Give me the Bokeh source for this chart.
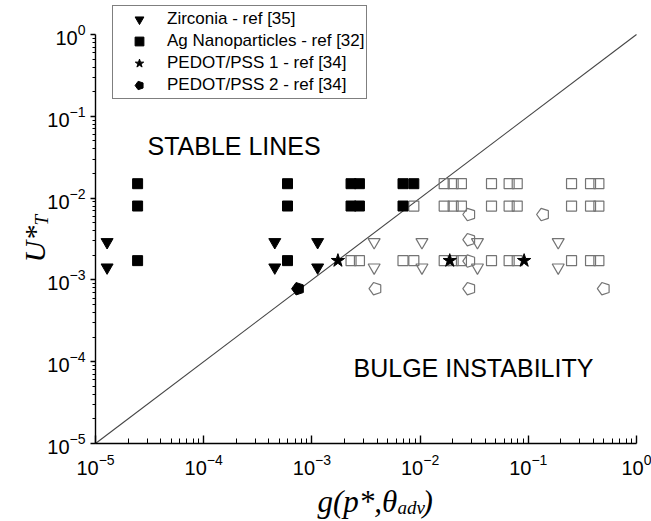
import math
from bokeh.plotting import figure
from bokeh.models import FixedTicker, Label, Legend, LegendItem, Range1d
from bokeh.embed import file_html
from bokeh.resources import INLINE

# ---------------- data ----------------
# Zirconia - ref [35]
zr_stable_x = [1.28e-5, 1.28e-5, 4.54e-4, 4.54e-4, 1.13e-3, 1.13e-3]
zr_stable_y = [2.9e-3, 1.42e-3, 2.9e-3, 1.42e-3, 2.9e-3, 1.42e-3]
zr_unstable_x = [3.76e-3, 3.76e-3, 1.04e-2, 1.04e-2, 3.39e-2, 3.39e-2, 0.189, 0.189]
zr_unstable_y = [2.9e-3, 1.42e-3, 2.9e-3, 1.42e-3, 2.9e-3, 1.42e-3, 2.9e-3, 1.42e-3]

# Ag Nanoparticles - ref [32]
ag_stable_x = [2.45e-5, 5.95e-4, 2.3e-3, 2.75e-3, 6.95e-3, 8.75e-3,
               2.45e-5, 5.95e-4, 2.3e-3, 2.75e-3, 6.95e-3,
               2.45e-5, 5.95e-4]
ag_stable_y = [1.5e-2, 1.5e-2, 1.5e-2, 1.5e-2, 1.5e-2, 1.5e-2,
               8.0e-3, 8.0e-3, 8.0e-3, 8.0e-3, 8.0e-3,
               1.72e-3, 1.72e-3]
ag_unstable_x = [1.67e-2, 2.02e-2, 2.41e-2, 4.57e-2, 6.65e-2, 7.9e-2, 0.251, 0.376, 0.449,
                 8.75e-3, 1.67e-2, 2.02e-2, 2.41e-2, 4.57e-2, 6.65e-2, 7.9e-2, 0.251, 0.376, 0.449,
                 2.3e-3, 2.75e-3, 6.95e-3, 8.75e-3, 1.67e-2, 2.02e-2, 2.41e-2, 4.57e-2, 6.65e-2,
                 7.9e-2, 0.251, 0.376, 0.449]
ag_unstable_y = [1.5e-2] * 9 + [8.0e-3] * 10 + [1.72e-3] * 13

# PEDOT/PSS 1 - ref [34]
pe1_x = [1.74e-3, 1.88e-2, 9.15e-2]
pe1_y = [1.72e-3, 1.72e-3, 1.72e-3]

# PEDOT/PSS 2 - ref [34]
pe2_stable_x = [7.45e-4]
pe2_stable_y = [7.8e-4]
pe2_unstable_x = [2.85e-2, 0.137, 2.85e-2, 2.85e-2, 3.87e-3, 2.85e-2, 0.499]
pe2_unstable_y = [6.3e-3, 6.3e-3, 3.1e-3, 1.7e-3, 7.8e-4, 7.8e-4, 7.8e-4]

# boundary line U* = g
diag_x = [1e-5, 1.0]
diag_y = [1e-5, 1.0]

major_ticks = [1e-5, 1e-4, 1e-3, 1e-2, 1e-1, 1.0]
minor_ticks = [m * 10.0 ** e for e in range(-5, 0) for m in range(2, 10)]

# ---------------- layout ----------------
W, H = 651, 521
AX_L, AX_R, AX_T, AX_B = 95, 636, 34, 443     # pixel positions of 1e-5 / 1 on each axis
DX = (AX_R - AX_L) / 5.0
DY = (AX_B - AX_T) / 5.0
x_lo = 10 ** (-5 - AX_L / DX)
x_hi = 10 ** ((W - AX_R) / DX)
y_lo = 10 ** (-5 - (H - AX_B) / DY)
y_hi = 10 ** (AX_T / DY)

p = figure(width=W, height=H, x_axis_type="log", y_axis_type="log",
           x_range=Range1d(x_lo, x_hi), y_range=Range1d(y_lo, y_hi),
           output_backend="svg", toolbar_location=None, min_border=0)
p.grid.visible = False
p.outline_line_color = None
p.background_fill_color = "white"
p.border_fill_color = "white"

for ax in (p.xaxis[0], p.yaxis[0]):
    ax.fixed_location = 1e-5
    ax.bounds = (1e-5, 1.0)
    ax.ticker = FixedTicker(ticks=major_ticks, minor_ticks=minor_ticks)
    ax.axis_line_color = "black"
    ax.axis_line_width = 1.4
    ax.major_tick_line_color = "black"
    ax.minor_tick_line_color = "black"
    ax.major_tick_line_width = 1.4
    ax.minor_tick_line_width = 1.0
    ax.major_label_text_font = "Liberation Sans"
    ax.major_label_text_font_size = "20px"
    ax.major_label_text_color = "black"

p.xaxis.major_tick_in = 8
p.xaxis.major_tick_out = 0
p.xaxis.minor_tick_in = 5
p.xaxis.minor_tick_out = 0
p.xaxis.major_label_standoff = 10
p.yaxis.major_tick_in = 0
p.yaxis.major_tick_out = 5
p.yaxis.minor_tick_in = 0
p.yaxis.minor_tick_out = 3
p.yaxis.major_label_standoff = 5

p.line(diag_x, diag_y, line_color="#444444", line_width=1.1)

OPEN = "#747474"
p.scatter(ag_unstable_x, ag_unstable_y, marker="square", size=10, fill_color=None,
          line_color=OPEN, line_width=1.2)
p.scatter(zr_unstable_x, zr_unstable_y, marker="inverted_triangle", size=12, fill_color=None,
          line_color=OPEN, line_width=1.2)
p.ngon(x=pe2_unstable_x, y=pe2_unstable_y, radius=6.5, radius_units="screen", n=5,
       angle=math.pi / 2, fill_color=None, line_color=OPEN, line_width=1.2)

r_zr = p.scatter(zr_stable_x, zr_stable_y, marker="inverted_triangle", size=12,
                 fill_color="black", line_color="black")
r_ag = p.scatter(ag_stable_x, ag_stable_y, marker="square", size=10,
                 fill_color="black", line_color="black")
r_pe2 = p.ngon(x=pe2_stable_x, y=pe2_stable_y, radius=6.5, radius_units="screen", n=5,
               angle=math.pi / 2, fill_color="black", line_color="black")
r_pe1 = p.scatter(pe1_x, pe1_y, marker="star", size=14, fill_color="black", line_color="black")

legend = Legend(items=[
    LegendItem(label="Zirconia - ref [35]", renderers=[r_zr]),
    LegendItem(label="Ag Nanoparticles - ref [32]", renderers=[r_ag]),
    LegendItem(label="PEDOT/PSS 1 - ref [34]", renderers=[r_pe1]),
    LegendItem(label="PEDOT/PSS 2 - ref [34]", renderers=[r_pe2]),
], location=(112, H - 99))
legend.label_text_font = "Liberation Sans"
legend.label_text_font_size = "17px"
legend.label_text_color = "black"
legend.border_line_color = "black"
legend.border_line_width = 1
legend.background_fill_color = "white"
legend.background_fill_alpha = 1.0
legend.padding = 2
legend.spacing = 0
legend.margin = 0
legend.label_height = 22
legend.glyph_height = 22
legend.glyph_width = 48
legend.label_standoff = 4
p.add_layout(legend)

def lab(text, x, y_img, size, font="Liberation Sans", style="normal", angle=0.0):
    p.add_layout(Label(x=x, y=H - y_img, x_units="screen", y_units="screen", text=text,
                       text_font=font, text_font_size=size, text_font_style=style,
                       text_color="black", text_align="left", text_baseline="alphabetic",
                       angle=angle))

lab("STABLE LINES", 147, 145, "25px")
lab("BULGE INSTABILITY", 353, 367, "25px")

# y axis title U*_T
lab("U*", 34, 262, "30px", font="Liberation Serif", style="italic", angle=math.pi / 2)
lab("T", 41, 225, "19px", font="Liberation Serif", style="italic", angle=math.pi / 2)

# x axis title g(p*, theta_adv)
lab("g(p*,\u03b8", 317, 501, "31px", font="Liberation Serif", style="italic")
lab("adv", 397, 507, "19px", font="Liberation Serif", style="italic")
lab(")", 422, 501, "31px", font="Liberation Serif", style="italic")

open("out.html", "w").write(file_html(p, INLINE))
